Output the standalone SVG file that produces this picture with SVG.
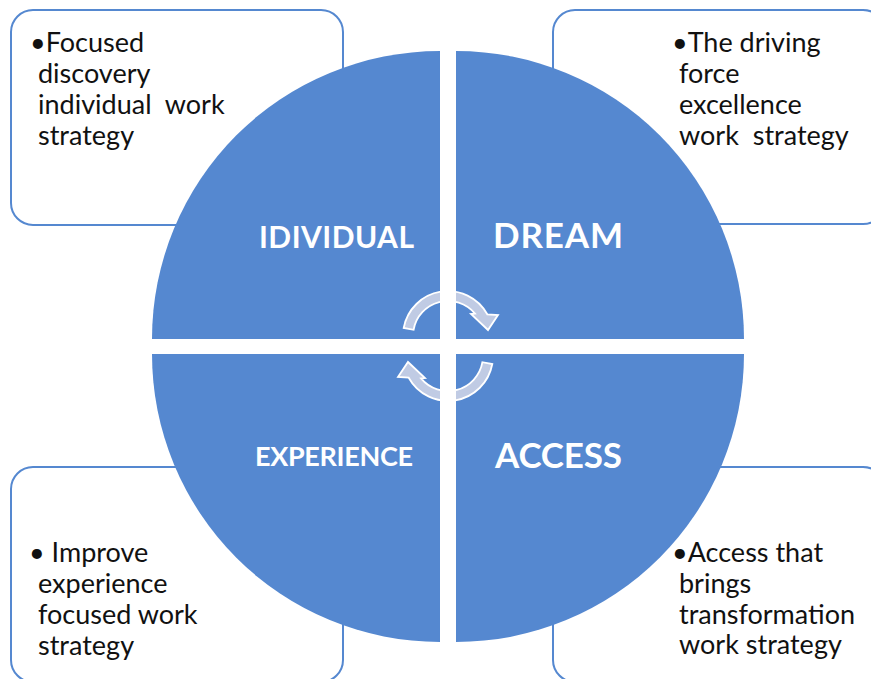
<svg xmlns="http://www.w3.org/2000/svg" width="871" height="679" viewBox="0 0 871 679">
<style>
.box{fill:#fff;stroke:#5588d0;stroke-width:2}
.quad{fill:#5588d0}
.body{font-family:Lato,"Liberation Sans",sans-serif;font-size:27px;fill:#111;white-space:pre}
.lbl{font-family:Lato,"Liberation Sans",sans-serif;font-weight:bold;fill:#fff}
.arr{fill:#c0cbe4;stroke:#fff;stroke-width:1.8;stroke-linejoin:miter}
</style>
<rect width="871" height="679" fill="#fff"/>
<g id="box-tl"><rect class="box" x="11" y="10" width="332" height="215" rx="22"/>
<text class="body" xml:space="preserve"><tspan x="30" y="52">•Focused</tspan><tspan x="38" y="83">discovery</tspan><tspan x="38" y="114">individual  work</tspan><tspan x="38" y="145">strategy</tspan></text></g>
<g id="box-tr"><rect class="box" x="553" y="10" width="332" height="214" rx="22"/>
<text class="body" xml:space="preserve"><tspan x="672" y="52">•The driving</tspan><tspan x="679" y="83">force</tspan><tspan x="679" y="114">excellence</tspan><tspan x="679" y="145">work  strategy</tspan></text></g>
<g id="box-bl"><rect class="box" x="11" y="467" width="332" height="215" rx="22"/>
<text class="body" xml:space="preserve"><tspan x="29" y="562">• Improve</tspan><tspan x="38" y="593">experience</tspan><tspan x="38" y="624">focused work</tspan><tspan x="38" y="655">strategy</tspan></text></g>
<g id="box-br"><rect class="box" x="553" y="467" width="332" height="215" rx="22"/>
<text class="body" xml:space="preserve"><tspan x="672" y="562">•Access that</tspan><tspan x="679" y="593">brings</tspan><tspan x="679" y="624">transformation</tspan><tspan x="679" y="654">work strategy</tspan></text></g>
<g id="q-individual"><path class="quad" d="M440 339 L152 339 A288 288 0 0 1 440 51 Z"/>
<text class="lbl" x="259" y="248" font-size="30" textLength="155" lengthAdjust="spacing">IDIVIDUAL</text></g>
<g id="q-dream"><path class="quad" d="M456 339 L456 51 A288 288 0 0 1 744 339 Z"/>
<text class="lbl" x="493" y="248" font-size="35" textLength="130" lengthAdjust="spacing">DREAM</text></g>
<g id="q-access"><path class="quad" d="M456 354 L744 354 A288 288 0 0 1 456 642 Z"/>
<text class="lbl" x="495" y="468" font-size="35" textLength="127" lengthAdjust="spacing">ACCESS</text></g>
<g id="q-experience"><path class="quad" d="M440 354 L440 642 A288 288 0 0 1 152 354 Z"/>
<text class="lbl" x="255" y="466" font-size="27" textLength="158" lengthAdjust="spacing">EXPERIENCE</text></g>
<g id="connectors">
<path class="arr" d="M403.7 328 A45 45 0 0 1 487.3 314.3 L498 315 L488 330 L471 314 L475 313.6 A35 35 0 0 0 413.6 329.8 Z"/>
<path class="arr" transform="rotate(180 448 346)" d="M403.7 328 A45 45 0 0 1 487.3 314.3 L498 315 L488 330 L471 314 L475 313.6 A35 35 0 0 0 413.6 329.8 Z"/>
</g>
<rect x="440" y="40" width="16" height="620" fill="#fff"/>
<rect x="140" y="339" width="620" height="15" fill="#fff"/>
</svg>
